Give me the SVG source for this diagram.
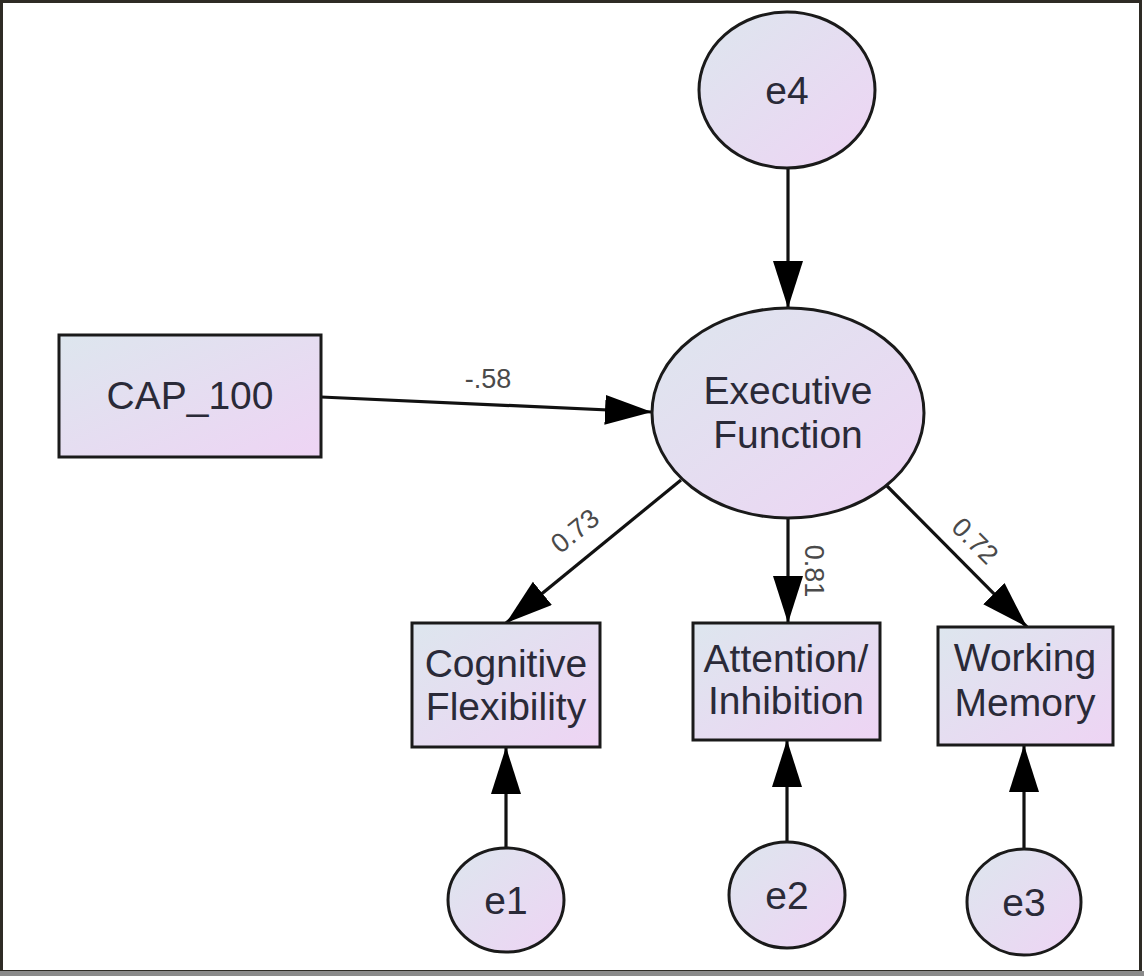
<svg xmlns="http://www.w3.org/2000/svg" width="1144" height="976" viewBox="0 0 1144 976">
  <style>
    .shape { fill: url(#nodeFill); stroke: #1a1a1a; stroke-width: 3; }
    .lbl { font-family: "Liberation Sans", Arial, sans-serif; font-size: 39px; fill: #2a2a38; text-anchor: middle; }
    .coef { font-family: "Liberation Sans", Arial, sans-serif; font-size: 27px; fill: #4a4a4a; text-anchor: middle; }
    .edge { stroke: #111; stroke-width: 3.2; fill: none; marker-end: url(#arrow); }
  </style>
  <defs>
    <linearGradient id="nodeFill" x1="0" y1="0" x2="1" y2="1">
      <stop offset="0" stop-color="#dde6ee"/>
      <stop offset="1" stop-color="#eed4f4"/>
    </linearGradient>
    <marker id="arrow" markerUnits="userSpaceOnUse" markerWidth="50" markerHeight="32" refX="47" refY="15" orient="auto">
      <path d="M0,0 L47,15 L0,30 z" fill="#000"/>
    </marker>
  </defs>

  <rect x="0" y="0" width="1144" height="976" fill="#fff"/>
  <!-- frame -->
  <rect x="1.5" y="1.5" width="1139" height="970" fill="none" stroke="#2e2b25" stroke-width="3"/>
  <line x1="0" y1="973.5" x2="1144" y2="973.5" stroke="#8a8a8a" stroke-width="5"/>

  <g id="connectors">
    <line class="edge" x1="788" y1="168" x2="788" y2="308"/>
    <line class="edge" x1="321" y1="397" x2="652" y2="412"/>
    <line class="edge" x1="681" y1="480" x2="506" y2="623"/>
    <line class="edge" x1="788" y1="518" x2="788" y2="623"/>
    <line class="edge" x1="885" y1="484" x2="1027" y2="627"/>
    <line class="edge" x1="506" y1="848" x2="506" y2="747"/>
    <line class="edge" x1="787" y1="842" x2="787" y2="740"/>
    <line class="edge" x1="1024" y1="849" x2="1024" y2="745"/>
    <text class="coef" x="488" y="388">-.58</text>
    <text class="coef" transform="translate(575,531) rotate(-39)" x="0" y="9">0.73</text>
    <text class="coef" transform="translate(814,571) rotate(90)" x="0" y="9">0.81</text>
    <text class="coef" transform="translate(975,541) rotate(45)" x="0" y="9">0.72</text>
  </g>

  <g id="e4">
    <ellipse class="shape" cx="787" cy="90" rx="88" ry="78"/>
    <text class="lbl" x="787" y="104">e4</text>
  </g>

  <g id="executive-function">
    <ellipse class="shape" cx="788" cy="413" rx="136" ry="105"/>
    <text class="lbl" x="788" y="404">Executive</text>
    <text class="lbl" x="788" y="448">Function</text>
  </g>

  <g id="cap-100">
    <rect class="shape" x="59" y="335" width="262" height="122"/>
    <text class="lbl" x="190" y="409">CAP_100</text>
  </g>

  <g id="cognitive-flexibility">
    <rect class="shape" x="412" y="623" width="188" height="124"/>
    <text class="lbl" x="506" y="677">Cognitive</text>
    <text class="lbl" x="506" y="720">Flexibility</text>
  </g>

  <g id="attention-inhibition">
    <rect class="shape" x="693" y="623" width="187" height="117"/>
    <text class="lbl" x="786" y="672">Attention/</text>
    <text class="lbl" x="786" y="714">Inhibition</text>
  </g>

  <g id="working-memory">
    <rect class="shape" x="938" y="627" width="175" height="118"/>
    <text class="lbl" x="1025" y="671">Working</text>
    <text class="lbl" x="1025" y="716">Memory</text>
  </g>

  <g id="e1">
    <ellipse class="shape" cx="506" cy="900" rx="58" ry="52"/>
    <text class="lbl" x="506" y="914">e1</text>
  </g>

  <g id="e2">
    <ellipse class="shape" cx="787" cy="895" rx="58" ry="53"/>
    <text class="lbl" x="787" y="909">e2</text>
  </g>

  <g id="e3">
    <ellipse class="shape" cx="1024" cy="902" rx="57" ry="53"/>
    <text class="lbl" x="1024" y="916">e3</text>
  </g>
</svg>
